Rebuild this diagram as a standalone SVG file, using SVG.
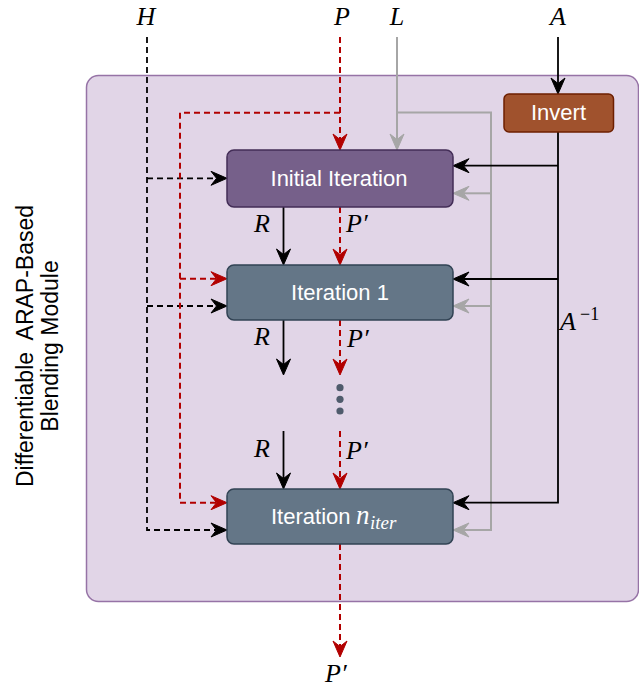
<svg xmlns="http://www.w3.org/2000/svg" width="639" height="689" viewBox="0 0 639 689">
<style>
.box{stroke-width:1.5}
.btxt{font-family:"Liberation Sans",Arial,sans-serif;font-size:22px;fill:#ffffff;text-anchor:middle}
.math{font-family:"Liberation Serif","Times New Roman",serif;font-style:italic;font-size:26px;fill:#000}
.side{font-family:"Liberation Sans",Arial,sans-serif;font-size:23px;fill:#000;text-anchor:middle;white-space:pre}
.c{fill:none}
.blk{stroke:#000;stroke-width:1.8}
.red{stroke:#b20000;stroke-width:2}
.gry{stroke:#a6a6a6;stroke-width:2}
.dash{stroke-dasharray:6 4}
</style>
<defs>
<marker id="ab" markerUnits="userSpaceOnUse" viewBox="-7 -9 19 18" markerWidth="19" markerHeight="18" refX="0" refY="0" orient="auto" overflow="visible">
<path d="M10.5,0 L-5.5,-7 L0,0 L-5.5,7 Z" fill="#000" stroke="#000" stroke-width="1"/>
</marker>
<marker id="ar" markerUnits="userSpaceOnUse" viewBox="-7 -9 19 18" markerWidth="19" markerHeight="18" refX="0" refY="0" orient="auto" overflow="visible">
<path d="M10.5,0 L-5.5,-7 L0,0 L-5.5,7 Z" fill="#b20000" stroke="#b20000" stroke-width="1"/>
</marker>
<marker id="ag" markerUnits="userSpaceOnUse" viewBox="-7 -9 19 18" markerWidth="19" markerHeight="18" refX="0" refY="0" orient="auto" overflow="visible">
<path d="M10.5,0 L-5.5,-7 L0,0 L-5.5,7 Z" fill="#a6a6a6" stroke="#a6a6a6" stroke-width="1"/>
</marker>
</defs>

<g id="module">
<rect x="86.5" y="75.5" width="552" height="526" rx="12" fill="#e1d5e7" stroke="#9673a6" stroke-width="1.5"/>
<text class="side" xml:space="preserve" transform="translate(33,346) rotate(-90)">Differentiable  ARAP-Based</text>
<text class="side" transform="translate(58,346) rotate(-90)">Blending Module</text>
</g>

<g id="connectors">
<path class="c blk dash" d="M147,37 V530 H216.5" marker-end="url(#ab)"/>
<path class="c blk dash" d="M147,178.3 H216.5" marker-end="url(#ab)"/>
<path class="c blk dash" d="M147,306 H216.5" marker-end="url(#ab)"/>
<path class="c red dash" d="M340,37 V139.5" marker-end="url(#ar)"/>
<path class="c red dash" d="M340,112.7 H180 V502.7 H216.5" marker-end="url(#ar)"/>
<path class="c red dash" d="M180,278.7 H216.5" marker-end="url(#ar)"/>
<path class="c gry" d="M397,37 V139.5" marker-end="url(#ag)"/>
<path class="c gry" d="M397,112.5 H491 V530 H463.5" marker-end="url(#ag)"/>
<path class="c gry" d="M491,193.3 H463.5" marker-end="url(#ag)"/>
<path class="c gry" d="M491,306 H463.5" marker-end="url(#ag)"/>
<path class="c blk" d="M558,37 V83.5" marker-end="url(#ab)"/>
<path class="c blk" d="M558,132 V502.7 H463.5" marker-end="url(#ab)"/>
<path class="c blk" d="M558,165.7 H463.5" marker-end="url(#ab)"/>
<path class="c blk" d="M558,279 H463.5" marker-end="url(#ab)"/>
<path class="c blk" d="M283.5,207 V254.5" marker-end="url(#ab)"/>
<path class="c blk" d="M283.5,320 V364.5" marker-end="url(#ab)"/>
<path class="c blk" d="M283.5,431 V478.5" marker-end="url(#ab)"/>
<path class="c red dash" d="M340,207 V254.5" marker-end="url(#ar)"/>
<path class="c red dash" d="M340,320 V364.5" marker-end="url(#ar)"/>
<path class="c red dash" d="M340,431 V478.5" marker-end="url(#ar)"/>
<path class="c red dash" d="M340,544 V646.5" marker-end="url(#ar)"/>
</g>

<g id="invert">
<rect class="box" x="504" y="94" width="109.5" height="38" rx="5" fill="#a0522d" stroke="#6d1f00"/>
<text class="btxt" x="558.5" y="119.5">Invert</text>
</g>
<g id="initial-iteration">
<rect class="box" x="227" y="150" width="226" height="57" rx="7" fill="#76608a" stroke="#432d57"/>
<text class="btxt" x="339" y="186">Initial Iteration</text>
</g>
<g id="iteration-1">
<rect class="box" x="227" y="265" width="226" height="55" rx="7" fill="#647687" stroke="#314354"/>
<text class="btxt" x="340" y="300">Iteration 1</text>
</g>
<g id="dots">
<circle cx="340" cy="387.7" r="3.6" fill="#4f5b6c"/>
<circle cx="340" cy="399.3" r="3.6" fill="#4f5b6c"/>
<circle cx="340" cy="411" r="3.6" fill="#4f5b6c"/>
</g>
<g id="iteration-n">
<rect class="box" x="227" y="489" width="226" height="55" rx="7" fill="#647687" stroke="#314354"/>
<text class="btxt" x="271" y="524" style="text-anchor:start">Iteration</text>
<text class="math" x="356" y="524" style="fill:#fff;font-size:27px">n</text>
<text class="math" x="370" y="529" style="fill:#fff;font-size:19px">iter</text>
</g>

<g id="labels">
<text class="math" x="146" y="25" text-anchor="middle">H</text>
<text class="math" x="342" y="25" text-anchor="middle">P</text>
<text class="math" x="397" y="25" text-anchor="middle">L</text>
<text class="math" x="558" y="25" text-anchor="middle">A</text>
<text class="math" x="254" y="232">R</text>
<text class="math" x="346" y="232">P′</text>
<text class="math" x="254" y="345">R</text>
<text class="math" x="347" y="347">P′</text>
<text class="math" x="254" y="457">R</text>
<text class="math" x="346" y="459">P′</text>
<text class="math" x="560" y="330">A</text>
<text class="math" x="580" y="320" style="font-size:18px;font-style:normal">−1</text>
<text class="math" x="325" y="682">P′</text>
</g>
</svg>
